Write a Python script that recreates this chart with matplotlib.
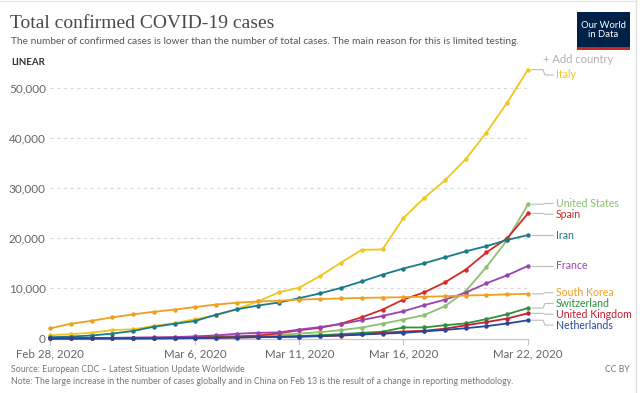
import matplotlib
matplotlib.use("Agg")
import matplotlib.pyplot as plt
import matplotlib.dates as mdates
from matplotlib.lines import Line2D
from matplotlib.patches import Rectangle
import numpy as np
import datetime as dt

# ---------------- data ----------------
start = dt.date(2020, 2, 28)
dates = [start + dt.timedelta(days=i) for i in range(24)]

countries = ["Italy", "United States", "Spain", "Iran", "France",
             "South Korea", "Switzerland", "United Kingdom", "Netherlands"]

italy = [650, 888, 1128, 1694, 1835, 2502, 3089, 3858, 4636, 5883, 7375, 9172,
         10149, 12462, 15113, 17660, 17750, 23980, 27980, 31506, 35713, 41035, 47021, 53578]
united_states = [60, 62, 68, 74, 100, 108, 129, 164, 217, 312, 472, 696,
                 987, 1264, 1678, 2174, 2951, 3774, 4661, 6427, 9415, 14250, 19624, 26747]
spain = [15, 32, 45, 84, 114, 151, 198, 257, 374, 430, 589, 1024,
         1639, 2140, 2965, 4231, 5753, 7753, 9191, 11178, 13716, 17147, 19980, 24926]
iran = [245, 388, 593, 978, 1501, 2336, 2922, 3513, 4747, 5823, 6566, 7161,
        8042, 9000, 10075, 11364, 12729, 13938, 14991, 16169, 17361, 18407, 19644, 20610]
france = [38, 57, 100, 130, 191, 212, 285, 423, 613, 949, 1126, 1209,
          1784, 2281, 2876, 3661, 4499, 5423, 6633, 7730, 9134, 10995, 12612, 14459]
south_korea = [2022, 2931, 3526, 4212, 4812, 5328, 5766, 6284, 6767, 7134, 7382, 7513,
               7755, 7869, 7979, 8086, 8162, 8236, 8320, 8413, 8565, 8652, 8799, 8897]
switzerland = [8, 15, 18, 24, 30, 37, 56, 87, 209, 264, 332, 374,
               491, 652, 858, 1125, 1359, 2200, 2200, 2650, 3010, 3863, 4840, 6077]
united_kingdom = [16, 20, 23, 36, 40, 51, 85, 115, 163, 206, 273, 321,
                  373, 456, 590, 798, 1140, 1391, 1543, 1950, 2626, 3269, 3983, 5018]
netherlands = [1, 1, 6, 10, 18, 24, 38, 82, 128, 188, 265, 321,
               382, 503, 614, 804, 959, 1135, 1413, 1705, 2051, 2460, 2994, 3631]

series = [italy, united_states, spain, iran, france,
          south_korea, switzerland, united_kingdom, netherlands]

colors = ["#f0c71e", "#8cbf72", "#d42a24", "#1b7a88", "#9a41b3",
          "#f0a020", "#2f8f3c", "#c41f35", "#25489a"]

yticks = [0, 10000, 20000, 30000, 40000, 50000]
xtick_dates = [dt.date(2020, 2, 28), dt.date(2020, 3, 6), dt.date(2020, 3, 11),
               dt.date(2020, 3, 16), dt.date(2020, 3, 22)]

# ---------------- figure ----------------
W, H = 640, 393
fig = plt.figure(figsize=(W / 100, H / 100), dpi=100)
fig.patch.set_facecolor("white")

def fx(x):
    return x / W

def fy(y):
    return 1 - y / H

ax_left, ax_right, ax_top, ax_bottom = 50, 528, 67.5, 338.5
ax = fig.add_axes([fx(ax_left), fy(ax_bottom), fx(ax_right - ax_left),
                   (ax_bottom - ax_top) / H])

for vals, col in zip(series, colors):
    ax.plot(dates, vals, color=col, lw=1.3, marker="o", ms=2.2,
            mec=col, mfc=col, clip_on=False, zorder=3)

ax.set_xlim(dates[0], dates[-1])
ax.set_ylim(0, 54000)
ax.set_yticks(yticks)
ax.set_yticklabels([f"{v:,}" for v in yticks])
ax.set_xticks(xtick_dates)
ax.xaxis.set_major_formatter(mdates.DateFormatter("%b %-d, %Y"))

for v in yticks[1:]:
    ax.axhline(v, color="#d9d9d9", lw=0.8, ls=(0, (3, 3)), zorder=1)

for s in ["top", "right", "left"]:
    ax.spines[s].set_visible(False)
ax.spines["bottom"].set_color("#c8c8c8")
ax.spines["bottom"].set_linewidth(0.9)

ax.tick_params(axis="y", length=0, pad=3, labelsize=8.5, labelcolor="#666666")
ax.tick_params(axis="x", length=4, width=0.8, color="#c8c8c8", pad=3,
               labelsize=8.3, labelcolor="#666666")
for lab in ax.get_xticklabels() + ax.get_yticklabels():
    lab.set_family("Lato")

# ---------------- end labels ----------------
fig.canvas.draw()
to_px = ax.transData
ends = []
xend = mdates.date2num(dates[-1])
for name, vals, col in zip(countries, series, colors):
    _, ydisp = to_px.transform((xend, vals[-1]))
    ends.append([name, H - ydisp, col])

# de-overlap label positions (pixel space)
order = sorted(range(len(ends)), key=lambda i: ends[i][1])
lab_y = [ends[i][1] for i in order]
lab_y[0] = max(lab_y[0], 75)
gap = 10.8
for _ in range(200):
    moved = False
    for k in range(1, len(lab_y)):
        d = lab_y[k] - lab_y[k - 1]
        if d < gap:
            shift = (gap - d) / 2
            lab_y[k - 1] -= shift
            lab_y[k] += shift
            moved = True
    lab_y[0] = max(lab_y[0], 75)
    if not moved:
        break

xdata_px = ax_right
for k, i in enumerate(order):
    name, ydat, col = ends[i]
    yl = lab_y[k]
    xs = [xdata_px + 4, 543, 545, 553]
    ys = [ydat, ydat, yl, yl]
    fig.add_artist(Line2D([fx(x) for x in xs], [fy(y) for y in ys],
                          color="#bdbdbd", lw=0.8))
    fig.text(fx(556), fy(yl), name, color=col, fontsize=7.6, family="Lato",
             va="center", ha="left")

# ---------------- header / footer ----------------
fig.text(fx(10), fy(28), "Total confirmed COVID-19 cases", family="Liberation Serif",
         fontsize=14, color="#4a4a4a", va="baseline")
fig.text(fx(11), fy(44),
         "The number of confirmed cases is lower than the number of total cases. "
         "The main reason for this is limited testing.",
         family="Lato", fontsize=7.3, color="#555555", va="baseline")
fig.text(fx(11), fy(65), "LINEAR", family="Lato", fontsize=7, fontweight="bold",
         color="#333333", va="baseline")
fig.text(fx(543), fy(63), "+ Add country", family="Lato", fontsize=8,
         color="#b0b0b0", va="baseline")

# logo
fig.add_artist(Rectangle((fx(577), fy(50)), fx(53), 38 / H, transform=fig.transFigure,
                         facecolor="#002147", edgecolor="none"))
fig.add_artist(Rectangle((fx(577), fy(50)), fx(53), 3 / H, transform=fig.transFigure,
                         facecolor="#ce261e", edgecolor="none"))
fig.text(fx(603.5), fy(30), "Our World\nin Data", family="Lato", fontsize=6.8,
         color="white", ha="center", va="center", linespacing=1.0)

fig.text(fx(11), fy(372), "Source: European CDC \u2013 Latest Situation Update Worldwide",
         family="Lato", fontsize=6.3, color="#777777", va="baseline")
fig.text(fx(11), fy(384),
         "Note: The large increase in the number of cases globally and in China on Feb 13 "
         "is the result of a change in reporting methodology.",
         family="Lato", fontsize=6.3, color="#777777", va="baseline")
fig.text(fx(630), fy(372), "CC BY", family="Lato", fontsize=6.3, color="#777777",
         va="baseline", ha="right")

# frame lines
fig.add_artist(Line2D([fx(636), fx(636)], [0, 1], color="#e0e0e0", lw=1))
fig.add_artist(Line2D([0, fx(636)], [fy(0.5), fy(0.5)], color="#e6e6e6", lw=1))

fig.savefig("out.png", dpi=100, facecolor="white")
